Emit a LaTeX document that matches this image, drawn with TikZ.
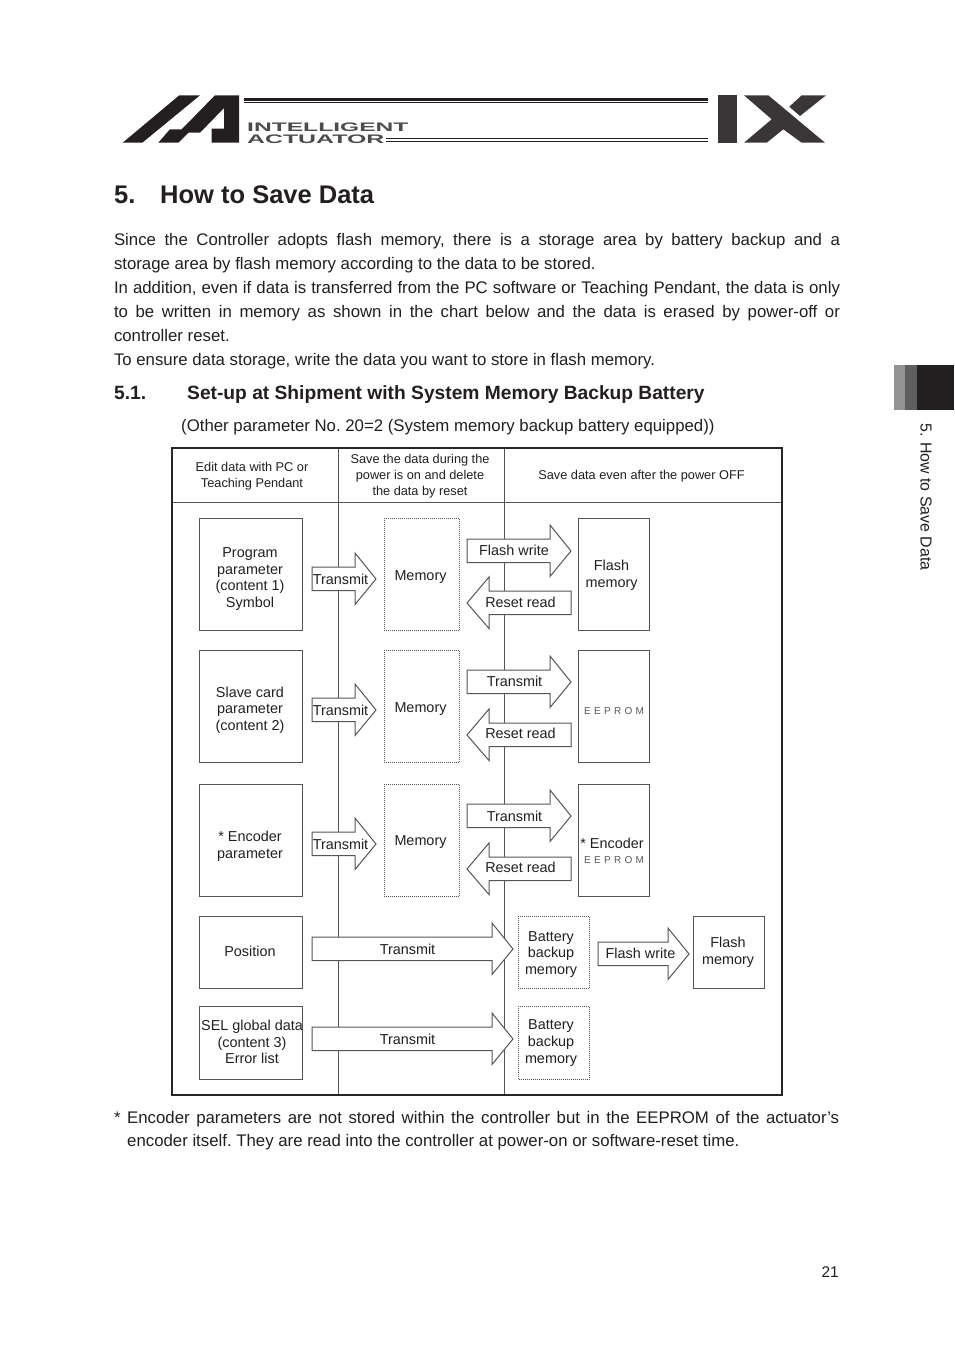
\documentclass[tikz,border=0pt]{standalone}
\usepackage{fontspec}
\setmainfont{Liberation Sans}
\definecolor{ink}{HTML}{231F20}
\definecolor{edge}{HTML}{555555}
\definecolor{logoink}{HTML}{231F20}
\definecolor{ixink}{HTML}{3A3637}
\definecolor{tabone}{HTML}{949494}
\definecolor{tabtwo}{HTML}{5F5F5F}
\newcommand{\bodyfont}{\fontsize{16.79}{24}\selectfont\frenchspacing}
\newcommand{\diafont}{\fontsize{14.4}{16.6}\selectfont}
\newcommand{\hdrfont}{\fontsize{12.75}{16}\selectfont}
\newcommand{\eefont}{\fontsize{10}{12}\selectfont\color{ink!75}}
\newcommand{\JL}[3]{\node[bodytext] (#1) at (114,#2) {\hbox to 726pt{#3}};}
\newcommand{\LL}[3]{\node[bodytext] (#1) at (114,#2) {#3};}
\newcommand{\BX}[9]{\draw[#2] (#3,#4) rectangle (#5-0.7,#6-0.7); \node[dialabel] (#1) at (#7,#8) {#9};}
\newcommand{\RA}[8]{\draw[blockarrow] (#2,#5-12) -- (#3,#5-12) -- (#3,#5-26) -- (#4,#5) -- (#3,#5+25.5) -- (#3,#5+11.5) -- (#2,#5+11.5) -- cycle; \node[dialabel] (#1) at (#7,#8) {#6};}
\tikzset{
  bodytext/.style={anchor=base west,inner sep=0pt,outer sep=0pt,text=ink,font=\bodyfont},
  dialabel/.style={inner sep=0pt,outer sep=0pt,align=center,text=ink,font=\diafont},
  hdrlabel/.style={inner sep=0pt,outer sep=0pt,align=center,text=ink,font=\hdrfont},
  solidbox/.style={draw=edge,line width=1pt,fill=white},
  dotbox/.style={draw=edge,line width=1pt,fill=white,dash pattern=on 1pt off 1pt},
  blockarrow/.style={draw=edge,line width=1pt,fill=white,line join=miter},
}
\begin{document}
\begin{tikzpicture}[x=1pt,y=-1pt]
\useasboundingbox (0,0) rectangle (954,1350);
\fill[white] (0,0) rectangle (954,1350);
% logo
\fill[logoink] (122.7,142.7) -- (142.3,142.7) -- (200,95.3) -- (179.3,95.3) -- cycle;
\fill[logoink] (158.3,142.7) -- (170,129.3) -- (181.7,129.3) -- (215,95.3) -- (239,95.3) -- (239,142.7) -- (211.7,142.7) -- (211.7,128.7) -- (224,128.7) -- (224,108) -- (200,132.7) -- (188.3,132.7) -- (178.3,142.7) -- cycle;
\fill[logoink] (244,98) rectangle (708,100.6);
\fill[logoink] (244,102) rectangle (708,103);
\fill[logoink] (386,138) rectangle (708,139.4);
\fill[logoink] (386,141) rectangle (708,142.4);
\node[anchor=base west,inner sep=0pt,text=black!70] (logoa) at (247,131) {\scalebox{2.05}[1.03]{\fontsize{12}{12}\bfseries\selectfont INTELLIGENT}};
\node[anchor=base west,inner sep=0pt,text=black!70] (logob) at (247,143) {\scalebox{2.07}[1.03]{\fontsize{12}{12}\bfseries\selectfont ACTUATOR}};
\fill[ixink] (718,95.3) rectangle (736.7,142.7);
\fill[ixink] (744,95.3) -- (768.3,95.3) -- (825,142.7) -- (801.7,142.7) -- (783.3,129.3) -- (766.7,142.7) -- (744,142.7) -- (771.7,119.3) -- cycle;
\fill[ixink] (801.7,95.3) -- (826,95.3) -- (800,116) -- (789.3,106.7) -- cycle;
% heading texts
\node[anchor=base west,inner sep=0pt,text=ink,font=\fontsize{25.5}{30}\bfseries\selectfont] (t5) at (114,203) {5.};
\node[anchor=base west,inner sep=0pt,text=ink,font=\fontsize{25.5}{30}\bfseries\selectfont] (ttl) at (160,203) {How to Save Data};
\JL{p1}{245}{Since the Controller adopts flash memory, there is a storage area by battery backup and a}
\LL{p2}{269}{storage area by flash memory according to the data to be stored.}
\JL{p3}{293}{In addition, even if data is transferred from the PC software or Teaching Pendant, the data is only}
\JL{p4}{317}{to be written in memory as shown in the chart below and the data is erased by power-off or}
\LL{p5}{341}{controller reset.}
\LL{p6}{365}{To ensure data storage, write the data you want to store in flash memory.}
\node[anchor=base west,inner sep=0pt,text=ink,font=\fontsize{19.2}{22}\bfseries\selectfont] (h51) at (114,399) {5.1.};
\node[anchor=base west,inner sep=0pt,text=ink,font=\fontsize{19.2}{22}\bfseries\selectfont] (h51t) at (187,399) {Set-up at Shipment with System Memory Backup Battery};
\node[anchor=base west,inner sep=0pt,text=ink,font=\bodyfont] (sub) at (181,431) {(Other parameter No. 20=2 (System memory backup battery equipped))};
% side tab
\fill[tabone] (894,365) rectangle (905,410);
\fill[tabtwo] (905,365) rectangle (917,410);
\fill[logoink] (917,365) rectangle (954,410);
\node[anchor=base west,rotate=-90,inner sep=0pt,text=ink,font=\fontsize{15.9}{18}\selectfont] (side) at (920.5,423) {5. How to Save Data};
% table frame
\draw[edge,line width=1pt] (338,448) coordinate (c1t) -- (338,1095) coordinate (c1b);
\draw[edge,line width=1pt] (504,448) coordinate (c2t) -- (504,1095) coordinate (c2b);
\draw[edge,line width=1pt] (172,502) coordinate (hl) -- (782,502) coordinate (hr);
\draw[black!85,line width=1.6pt] (172,448) rectangle (782,1095);
\node[hdrlabel] (h1) at (252,476.5) {Edit data with PC or\\Teaching Pendant};
\node[hdrlabel] (h2) at (420,476.5) {Save the data during the\\power is on and delete\\the data by reset};
\node[hdrlabel] (h3) at (641.5,476) {Save data even after the power OFF};
% boxes
\BX{b1}{solidbox}{199}{518}{303}{631}{250}{579}{Program\\parameter\\(content 1)\\Symbol}
\BX{b2}{solidbox}{199}{650}{303}{763}{250}{710}{Slave card\\parameter\\(content 2)}
\BX{b3}{solidbox}{199}{784}{303}{897}{250}{846}{* Encoder\\parameter}
\BX{b4}{solidbox}{199}{916}{303}{989}{250}{951}{Position}
\BX{b5}{solidbox}{199}{1006}{303}{1080}{252}{1042}{SEL global data\\(content 3)\\Error list}
\BX{m1}{dotbox}{384}{518}{460}{631}{420.5}{577}{Memory}
\BX{m2}{dotbox}{384}{650}{460}{763}{420.5}{709}{Memory}
\BX{m3}{dotbox}{384}{784}{460}{897}{420.5}{842}{Memory}
\BX{f1}{solidbox}{578}{518}{650}{631}{611.5}{575.5}{Flash\\memory}
\BX{e1}{solidbox}{578}{650}{650}{763}{614}{711}{\eefont E\,\,E\,\,P\,\,R\,\,O\,\,M}
\draw[solidbox] (578,784) rectangle (649.3,896.3);
\node[dialabel] (e2a) at (612,843) {* Encoder};
\node[dialabel] (e2b) at (614,860.5) {\eefont E\,\,E\,\,P\,\,R\,\,O\,\,M};
\BX{bb1}{dotbox}{518}{916}{590}{989}{551}{954.5}{Battery\\backup\\memory}
\BX{bb2}{dotbox}{518}{1006}{590}{1080}{551}{1043}{Battery\\backup\\memory}
\BX{f2}{solidbox}{693}{916}{765}{989}{728}{952}{Flash\\memory}
% arrows
\RA{a1}{312}{355}{376}{579}{Transmit}{340.5}{579}
\RA{a2}{312}{355}{376}{710}{Transmit}{340.5}{710}
\RA{a3}{312}{355}{376}{844}{Transmit}{340.5}{844}
\RA{fw1}{467}{550}{571}{551}{Flash write}{514}{550}
\RA{t2}{467}{550}{571}{682}{Transmit}{514.5}{681}
\RA{t3}{467}{550}{571}{816}{Transmit}{514.5}{816}
\RA{r1}{571}{489}{467}{603}{Reset read}{520.5}{602}
\RA{r2}{571}{489}{467}{735}{Reset read}{520.5}{733}
\RA{r3}{571}{489}{467}{869}{Reset read}{520.5}{867}
\RA{p1a}{312}{492}{513}{949}{Transmit}{407.5}{949}
\RA{p2a}{312}{492}{513}{1039}{Transmit}{407.5}{1039}
\RA{fw2}{598}{668}{689}{954}{Flash write}{640.5}{953}
% footnote
\node[anchor=base west,inner sep=0pt,text=ink,font=\bodyfont] (star) at (114,1123) {*};
\node[anchor=base west,inner sep=0pt,text=ink,font=\bodyfont] (n1) at (127,1123) {\hbox to 712pt{Encoder parameters are not stored within the controller but in the EEPROM of the actuator’s}};
\node[anchor=base west,inner sep=0pt,text=ink,font=\bodyfont] (n2) at (127,1146) {encoder itself. They are read into the controller at power-on or software-reset time.};
\node[anchor=base east,inner sep=0pt,text=ink,font=\fontsize{15.5}{18}\selectfont] (pg) at (839,1277) {21};
\end{tikzpicture}
\end{document}
